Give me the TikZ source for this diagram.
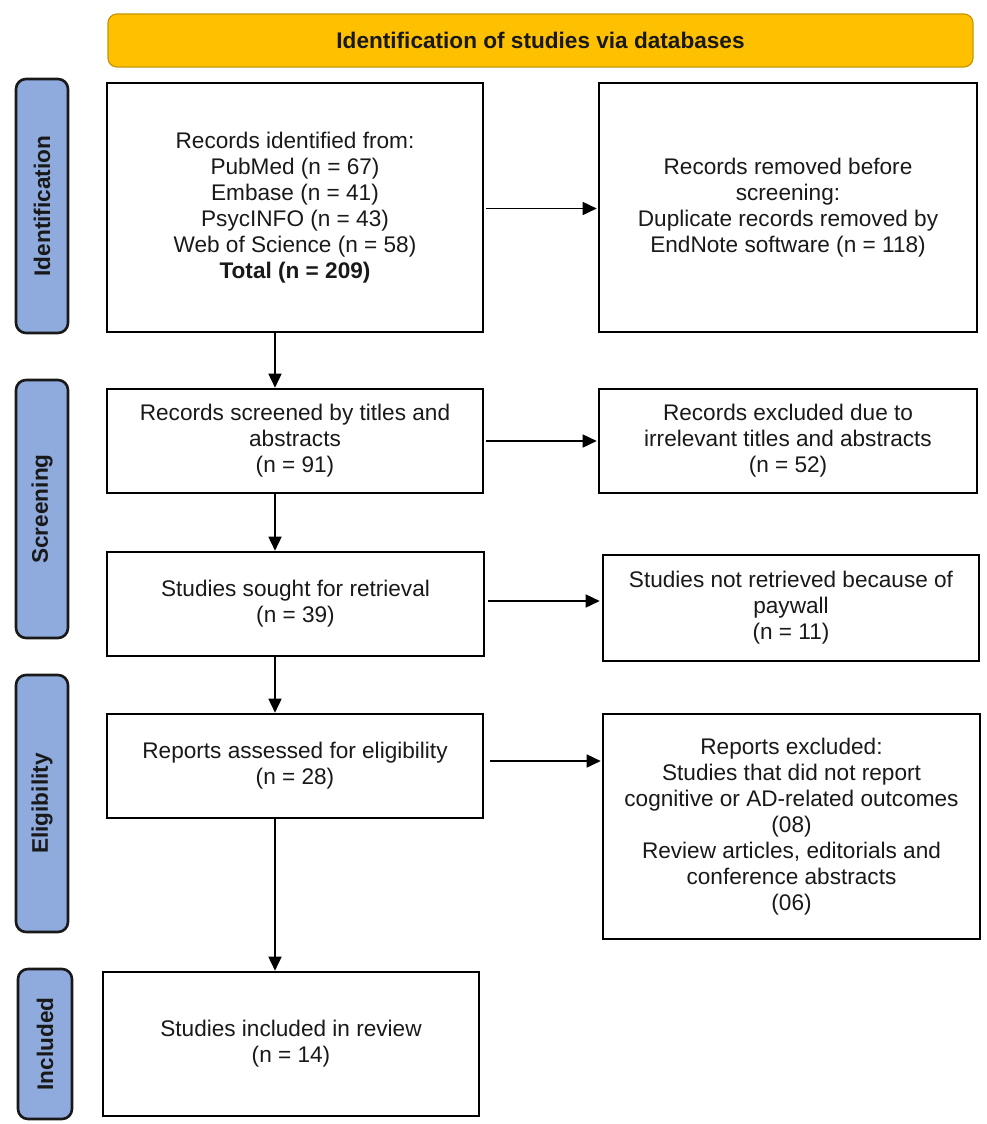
\documentclass[tikz,border=0pt]{standalone}
\usepackage{fontspec}
\setmainfont{Liberation Sans}
\usetikzlibrary{arrows.meta}
\definecolor{bannerfill}{HTML}{FFC000}
\definecolor{bannerdraw}{HTML}{C89600}
\definecolor{labfill}{HTML}{8FAADC}
\begin{document}
\begin{tikzpicture}[x=1pt,y=-1pt,
  every node/.style={font=\fontsize{22.6}{26}\selectfont, inner sep=0pt, align=center, text=black!90},
  box/.style={draw=black, line width=2.6pt, fill=white},
  lab/.style={draw=black!90, line width=2.6pt, fill=labfill, rounded corners=10pt, font=\fontsize{22.6}{26}\selectfont\bfseries},
  banner/.style={draw=bannerdraw, line width=1.2pt, fill=bannerfill, rounded corners=9pt, font=\fontsize{22.6}{26}\selectfont\bfseries},
  arr/.style={line width=1.6pt, -{Triangle[length=14pt,width=13pt]}}
]
\useasboundingbox (0,0) rectangle (986,1124);
\node[banner, minimum width=865pt, minimum height=53pt] (ban) at (540.5,40.5) {Identification of studies via databases};

\node[lab, minimum width=52pt, minimum height=254pt] (l1) at (42,206) {\rotatebox{90}{Identification}};
\node[lab, minimum width=52pt, minimum height=258pt] (l2) at (42,509) {\rotatebox{90}{Screening}};
\node[lab, minimum width=52pt, minimum height=257pt] (l3) at (42,803.5) {\rotatebox{90}{Eligibility}};
\node[lab, minimum width=54pt, minimum height=150pt] (l4) at (45,1044) {\rotatebox{90}{Included}};

\node[box, minimum width=376pt, minimum height=249pt] (b1) at (295,207.5) {Records identified from:\\PubMed (n = 67)\\Embase (n = 41)\\PsycINFO (n = 43)\\Web of Science (n = 58)\\\textbf{Total (n = 209)}};
\node[box, minimum width=378pt, minimum height=249pt] (r1) at (788,207.5) {Records removed before\\screening:\\Duplicate records removed by\\EndNote software (n = 118)};

\node[box, minimum width=376pt, minimum height=104pt] (b2) at (295,441) {Records screened by titles and\\abstracts\\(n = 91)};
\node[box, minimum width=378pt, minimum height=104pt] (r2) at (788,441) {Records excluded due to\\irrelevant titles and abstracts\\(n = 52)};

\node[box, minimum width=377pt, minimum height=104pt] (b3) at (295.5,604) {Studies sought for retrieval\\(n = 39)};
\node[box, minimum width=376pt, minimum height=106pt] (r3) at (791,608) {Studies not retrieved because of\\paywall\\(n = 11)};

\node[box, minimum width=376pt, minimum height=104pt] (b4) at (295,766) {Reports assessed for eligibility\\(n = 28)};
\node[box, minimum width=377pt, minimum height=225pt] (r4) at (791.5,826.5) {Reports excluded:\\Studies that did not report\\cognitive or AD-related outcomes\\(08)\\Review articles, editorials and\\conference abstracts\\(06)};

\node[box, minimum width=376pt, minimum height=144pt] (b5) at (291,1044) {Studies included in review\\(n = 14)};

\coordinate (ax) at (275,0);
\draw[arr] (b1.south -| ax) -- (b2.north -| ax);
\draw[arr] (b2.south -| ax) -- (b3.north -| ax);
\draw[arr] (b3.south -| ax) -- (b4.north -| ax);
\draw[arr] (b4.south -| ax) -- (b5.north -| ax);

\draw[arr] ([xshift=2pt,yshift=-1pt]b1.east) coordinate (s1) -- ([xshift=-1pt]r1.west |- s1);
\draw[arr] ([xshift=2pt]b2.east) coordinate (s2) -- ([xshift=-1pt]r2.west |- s2);
\draw[arr] ([xshift=3pt,yshift=3pt]b3.east) coordinate (s3) -- ([xshift=-2pt]r3.west |- s3);
\draw[arr] ([xshift=6pt,yshift=5pt]b4.east) coordinate (s4) -- ([xshift=-1pt]r4.west |- s4);
\end{tikzpicture}
\end{document}
